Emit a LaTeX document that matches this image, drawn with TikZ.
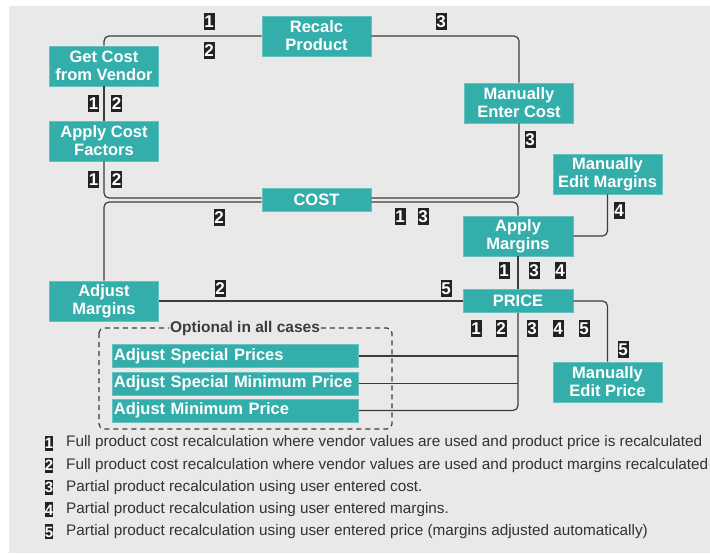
\documentclass[tikz,border=0pt]{standalone}
\usepackage{fontspec}
\setmainfont{Liberation Sans}
\usetikzlibrary{arrows}
\definecolor{boxteal}{RGB}{52,174,170}
\definecolor{canvas}{RGB}{233,233,233}
\definecolor{wirecol}{RGB}{60,60,60}
\definecolor{tagblack}{RGB}{34,34,34}
\definecolor{keytext}{RGB}{50,50,50}
\newcommand{\boxfont}{\fontsize{16.5}{18}\selectfont\bfseries}
\newcommand{\tagfont}{\fontsize{17}{17}\selectfont\bfseries}
\newcommand{\keyfont}{\fontsize{15.3}{16}\selectfont}

\begin{document}
\begin{tikzpicture}[x=1pt,y=-1pt,
  box/.style={fill=boxteal,draw=boxteal!75!white,line width=0.8pt,text=white,font=\boxfont,align=center,inner sep=0pt,minimum width=109pt,minimum height=40pt},
  flatbox/.style={box,minimum height=23pt},
  widebox/.style={box,minimum width=246pt,minimum height=23pt,anchor=west,text width=243pt,align=left},
  tag/.style={fill=tagblack,text=white,font=\tagfont,inner sep=0pt,minimum width=11pt,minimum height=17pt,text depth=0pt,text height=12.5pt},
  keytag/.style={tag,minimum width=8.5pt,minimum height=15pt,text height=11pt,font=\fontsize{15}{15}\selectfont\bfseries},
  wire/.style={draw=wirecol,line width=1.2pt,rounded corners=5pt}]
% The canvas
\useasboundingbox (0,0) rectangle (710,554);
\fill[canvas] (9,6) rectangle (710,553);

% The steps
\node[box] (recalc) at (316.5,36) {Recalc\\Product};
\node[box] (getcost) at (104,66) {Get Cost\\from Vendor};
\node[box] (costfac) at (104,141) {Apply Cost\\Factors};
\node[box] (entercost) at (519,103) {Manually\\Enter Cost};
\node[box] (editmarg) at (607.5,174) {Manually\\Edit Margins};
\node[flatbox] (cost) at (316.5,200) {COST};
\node[box,minimum width=110pt] (applymarg) at (518,236) {Apply\\Margins};
\node[flatbox,minimum width=110pt] (price) at (518,301) {PRICE};
\node[box] (adjmarg) at (104,301) {Adjust\\Margins};
\node[box] (editprice) at (607.5,382) {Manually\\Edit Price};

% The optional group
\node[widebox] (spprice) at (112,356) {Adjust Special Prices};
\node[widebox] (spminprice) at (112,383.5) {Adjust Special Minimum Price};
\node[widebox] (minprice) at (112,410.5) {Adjust Minimum Price};
\draw[wirecol,line width=1.2pt,dash pattern=on 5pt off 4pt,rounded corners=5pt] (99,328) rectangle (392,429);
\node[fill=canvas,text=wirecol,font=\fontsize{15.5}{16}\selectfont\bfseries,inner xsep=1pt,inner ysep=0pt] (optlabel) at (245,328) {Optional in all cases};

% The wires
\draw[wire] (getcost.north) |- (recalc.west);
\draw[wire] (recalc.east) -| (entercost.north);
\draw[wire] (getcost.south) -- (costfac.north);
\draw[wire] (costfac.south) |- ([yshift=2pt]cost.west);
\draw[wire] ([yshift=-2pt]cost.west) -| (adjmarg.north);
\draw[wire] (entercost.south) |- ([yshift=2pt]cost.east);
\draw[wire] ([yshift=-2pt]cost.east) -| (applymarg.north);
\draw[wire] (applymarg.south) -- (price.north);
\draw[wire] (editmarg.south) |- (applymarg.east);
\draw[wire] (adjmarg.east) -- (price.west);
\draw[wire] (price.east) -| (editprice.north);
\draw[wire] (price.south) |- (minprice.east);
\draw[wire] (spprice.east) -- (spprice.east -| price.south);
\draw[wire] (spminprice.east) -- (spminprice.east -| price.south);

% The case tags
\foreach \d/\px/\py [count=\i] in {1/209/21, 2/209/50, 3/441/21,
  1/93.5/103.5, 2/116.5/103.5, 1/93.5/179, 2/116.5/179, 3/530/139,
  2/219/217, 1/400/216, 3/423/216, 4/619/210,
  1/504/270, 3/534/270, 4/560/270, 5/446/288, 2/220/288,
  1/476/328, 2/501/328, 3/532/328, 4/558/328, 5/584/328, 5/623/349}
  \node[tag] (tag\i) at (\px,\py) {\d};

% The key
\foreach \d/\txt [count=\i] in {
  1/{Full product cost recalculation where vendor values are used and product price is recalculated},
  2/{Full product cost recalculation where vendor values are used and product margins recalculated},
  3/{Partial product recalculation using user entered cost.},
  4/{Partial product recalculation using user entered margins.},
  5/{Partial product recalculation using user entered price (margins adjusted automatically)}}
{
  \node[keytag] (key\i) at (49,{443+22.2*(\i-1)}) {\d};
  \node[anchor=west,inner sep=0pt,text=keytext,font=\keyfont] (keytext\i) at (66,{443+22.2*(\i-1)}) {\txt};
}
\end{tikzpicture}
\end{document}
